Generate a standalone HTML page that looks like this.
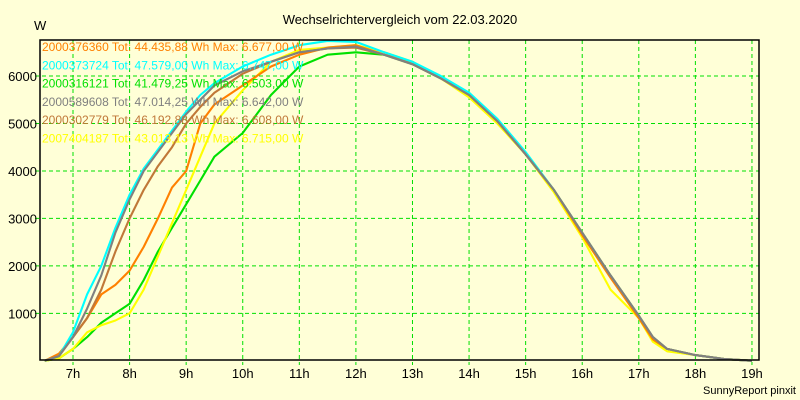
<!DOCTYPE html>
<html><head><meta charset="utf-8"><style>
body{margin:0;background:#FFFFD7;}
svg{display:block;font-family:"Liberation Sans",sans-serif;}
</style></head><body>
<svg id="chart" width="800" height="400">
<rect x="0" y="0" width="800" height="400" fill="#FFFFD7"/>
<text x="400" y="24" text-anchor="middle" font-size="13" fill="#000">Wechselrichtervergleich vom 22.03.2020</text>
<text x="34" y="30" font-size="13" fill="#000">W</text>
<g id="grid"></g>
<g id="series"></g>
<g id="axes"></g>
<g id="legend"></g>
<rect x="40" y="40" width="719" height="320" fill="none" stroke="#000" stroke-width="1.5"/>
<text x="796" y="394" text-anchor="end" font-size="11" fill="#000">SunnyReport pinxit</text>
</svg>
<script>
const hours=[6.5,6.75,7,7.25,7.5,7.75,8,8.25,8.5,8.75,9,9.25,9.5,10,10.5,11,11.5,12,12.5,13,13.5,14,14.5,15,15.5,16,16.5,17,17.25,17.5,18,18.5,19];
const seriesNames=["2000376360 Tot: 44.435,88 Wh Max: 6.677,00 W","2000373724 Tot: 47.579,00 Wh Max: 6.747,00 W","2000316121 Tot: 41.479,25 Wh Max: 6.503,00 W","2000589608 Tot: 47.014,25 Wh Max: 6.642,00 W","2000302779 Tot: 46.192,88 Wh Max: 6.608,00 W","2007404187 Tot: 43.013,13 Wh Max: 6.715,00 W"];
const seriesColors=["#FF8000","#00FFFF","#00E000","#808080","#C07838","#FFFF00"];
const orange=[0,150,500,900,1400,1600,1900,2400,3000,3650,4000,5000,5400,5800,6200,6450,6600,6650,6450,6300,5950,5600,5050,4350,3600,2650,1750,900,450,250,120,40,0];
const cyan=[0,100,600,1400,2000,2800,3500,4050,4450,4850,5250,5600,5850,6200,6450,6650,6740,6720,6500,6300,6000,5650,5100,4400,3600,2700,1800,950,500,250,120,40,0];
const green=[0,50,250,500,800,1000,1200,1700,2300,2800,3300,3800,4300,4800,5600,6200,6450,6500,6450,6250,5950,5600,5050,4350,3600,2700,1800,950,450,250,120,40,0];
const gray=[0,100,500,1100,1800,2700,3400,4000,4400,4800,5200,5500,5800,6100,6300,6500,6580,6620,6450,6250,5950,5600,5050,4350,3600,2700,1800,950,500,250,120,40,0];
const brown=[0,100,500,900,1500,2300,3000,3600,4100,4500,5000,5350,5650,6050,6300,6500,6580,6600,6450,6250,5950,5600,5050,4350,3600,2700,1800,950,500,250,120,40,0];
const yellow=[0,50,250,600,750,850,1000,1500,2200,2900,3600,4300,5000,5700,6300,6550,6600,6650,6500,6300,5950,5550,5000,4350,3550,2600,1500,900,400,200,120,40,0];
const xTicks=[7,8,9,10,11,12,13,14,15,16,17,18,19];
const xTickLabels=["7h","8h","9h","10h","11h","12h","13h","14h","15h","16h","17h","18h","19h"];
const yTicks=[1000,2000,3000,4000,5000,6000];
const NS="http://www.w3.org/2000/svg";
function xs(h){return 73+(h-7)*56.58;}
function ys(v){return 360.8-v*0.04746;}
function mk(tag,attrs,parent){const e=document.createElementNS(NS,tag);for(const k in attrs)e.setAttribute(k,attrs[k]);parent.appendChild(e);return e;}
const grid=document.getElementById('grid'),axes=document.getElementById('axes'),ser=document.getElementById('series'),leg=document.getElementById('legend');
xTicks.forEach((h,i)=>{
 const l=mk('line',{x1:xs(h),x2:xs(h),y1:40,y2:365,stroke:'#00E000','stroke-dasharray':'4,3'},grid);
 
 
 const t=mk('text',{x:xs(h),y:378,'text-anchor':'middle','font-size':13},axes);
 t.textContent=xTickLabels[i];
 
 
});
yTicks.forEach(v=>{
 const l=mk('line',{x1:35,x2:759,y1:ys(v),y2:ys(v),stroke:'#00E000','stroke-dasharray':'4,3'},grid);
 
 
 const t=mk('text',{x:37,y:ys(v)+5,'text-anchor':'end','font-size':13},axes);
 t.textContent=String(v);
 
 
});
const allSeries=[orange,cyan,green,gray,brown,yellow];
const drawOrder=[2,5,0,1,4,3];
drawOrder.forEach(i=>{
 const pts=hours.map((h,j)=>xs(h).toFixed(1)+','+ys(allSeries[i][j]).toFixed(1)).join(' ');
 const p=mk('polyline',{points:pts,fill:'none',stroke:seriesColors[i],'stroke-width':2.1,'stroke-linejoin':'round'},ser);
 
 
});
seriesNames.forEach((n,i)=>{
 const t=mk('text',{x:42,y:51+i*18.3,'font-size':12,fill:seriesColors[i]},leg);
 t.textContent=n;
 
 
});
</script>
</body></html>
